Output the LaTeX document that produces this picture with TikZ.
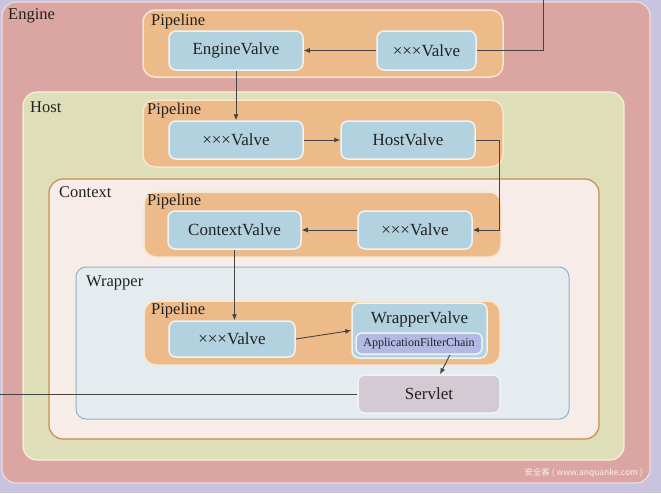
\documentclass[tikz,border=0pt]{standalone}
\usepackage{xcolor}
\usepackage{fontspec}
\setmainfont{Liberation Serif}
\newfontfamily\cjkfont{Noto Sans CJK SC}
\usepackage{tikz}
\usetikzlibrary{arrows.meta,positioning,calc}
\definecolor{bgcolor}{HTML}{C8C3DF}
\definecolor{enginecolor}{HTML}{DBA5A1}
\definecolor{engineborder}{HTML}{F0DCDA}
\definecolor{hostcolor}{HTML}{DEDFB9}
\definecolor{hostborder}{HTML}{F3F2DF}
\definecolor{contextcolor}{HTML}{F7ECE7}
\definecolor{contextborder}{HTML}{C8894C}
\definecolor{wrappercolor}{HTML}{E5ECEF}
\definecolor{wrapperborder}{HTML}{93B2C5}
\definecolor{pipecolor}{HTML}{EDBB89}
\definecolor{pipeborder}{HTML}{F8E6CF}
\definecolor{valvecolor}{HTML}{B3D2DF}
\definecolor{valveborder}{HTML}{EEF4F6}
\definecolor{chaincolor}{HTML}{B2B9E3}
\definecolor{servletcolor}{HTML}{D3CAD3}
\definecolor{linecolor}{HTML}{454545}
\definecolor{textcolor}{HTML}{222222}

\begin{document}
\begin{tikzpicture}[x=1pt, y=-1pt,
  every node/.style={font=\fontsize{17}{20}\selectfont, text=textcolor},
  valve/.style={draw=valveborder, line width=1.5pt, fill=valvecolor, rounded corners=7pt, inner sep=0pt},
  pipe/.style={draw=pipeborder, line width=1.5pt, fill=pipecolor, rounded corners=12pt},
  lbl/.style={anchor=west, inner sep=0pt, font=\fontsize{16.5}{19}\selectfont},
  flow/.style={draw=linecolor, line width=0.9pt},
  flowarrow/.style={flow, -{Latex[length=6pt,width=5pt]}}]
  % Background
  \fill[bgcolor] (0,0) rectangle (661,493);
  \useasboundingbox (0,0) rectangle (661,493);
  % Containers
  \draw[draw=engineborder, line width=1.2pt, fill=enginecolor, rounded corners=14pt] (2,2) rectangle (650,483);
  \draw[draw=hostborder, line width=1.2pt, fill=hostcolor, rounded corners=14pt] (23,92) rectangle (624,460);
  \draw[draw=contextborder, line width=1.2pt, fill=contextcolor, rounded corners=14pt] (49,179) rectangle (599,439);
  \draw[draw=wrapperborder, line width=1pt, fill=wrappercolor, rounded corners=10pt] (76,267) rectangle (569,419);
  \node[lbl] (engineLbl) at (8,16) {Engine};
  \node[lbl] (hostLbl) at (30,107) {Host};
  \node[lbl] (contextLbl) at (59,192) {Context};
  \node[lbl] (wrapperLbl) at (86,283) {Wrapper};
  % Pipelines
  \draw[pipe] (143,10) rectangle (503,77);
  \draw[pipe] (143,100) rectangle (503,167);
  \draw[pipe] (144,192) rectangle (501,257);
  \draw[pipe] (144,301) rectangle (500,365);
  \node[lbl] (enginePipe) at (151,22) {Pipeline};
  \node[lbl] (hostPipe) at (147,111) {Pipeline};
  \node[lbl] (contextPipe) at (147,202) {Pipeline};
  \node[lbl] (wrapperPipe) at (151,311) {Pipeline};
  % Valves
  \node[valve, minimum width=134, minimum height=39] (engineV) at (236,50.5) {EngineValve};
  \node[valve, minimum width=99, minimum height=39] (engineX) at (426.5,50.5) {×××Valve};
  \node[valve, minimum width=134, minimum height=38] (hostX) at (236,140) {×××Valve};
  \node[valve, minimum width=134, minimum height=38] (hostV) at (408,140) {HostValve};
  \node[valve, minimum width=133, minimum height=38] (contextV) at (234.5,230) {ContextValve};
  \node[valve, minimum width=114, minimum height=38] (contextX) at (415,230) {×××Valve};
  \node[valve, minimum width=126, minimum height=36] (wrapperX) at (232,339) {×××Valve};
  \node[valve, minimum width=135, minimum height=55,
        label={[anchor=north, yshift=-6pt]north:WrapperValve}] (wrapperV) at (419.5,330.5) {};
  \node[valve, fill=chaincolor, rounded corners=6pt, minimum width=126, minimum height=21,
        font=\fontsize{12}{14}\selectfont] (chain) at (419,343.5) {ApplicationFilterChain};
  \node[valve, fill=servletcolor, minimum width=142, minimum height=38] (servlet) at (429,394) {Servlet};
  % Watermark
  \node[anchor=east, inner sep=0pt, font=\cjkfont\fontsize{8.5}{10}\selectfont, text=white, opacity=0.85]
    (mark) at (643,473) {安全客 ( www.anquanke.com )};
  % Request path
  \coordinate (in) at (543,0);
  \coordinate (out) at (0,395);
  \draw[flow] (in) |- (engineX.east);
  \draw[flowarrow] (engineX) -- (engineV);
  \draw[flowarrow] (engineV) -- (hostX);
  \draw[flowarrow] (hostX) -- (hostV);
  \draw[flowarrow] (hostV.east) -- ++(24,0) |- (contextX.east);
  \draw[flowarrow] (contextX) -- (contextV);
  \draw[flowarrow] (contextV.south) -- (contextV.south |- wrapperX.north);
  \draw[flowarrow] (wrapperX.east) -- (wrapperV.west);
  \draw[flowarrow] ([xshift=31pt]chain.south) -- ([xshift=11pt]servlet.north);
  \draw[flow] (servlet.west) -- (servlet.west -| out);
\end{tikzpicture}
\end{document}
